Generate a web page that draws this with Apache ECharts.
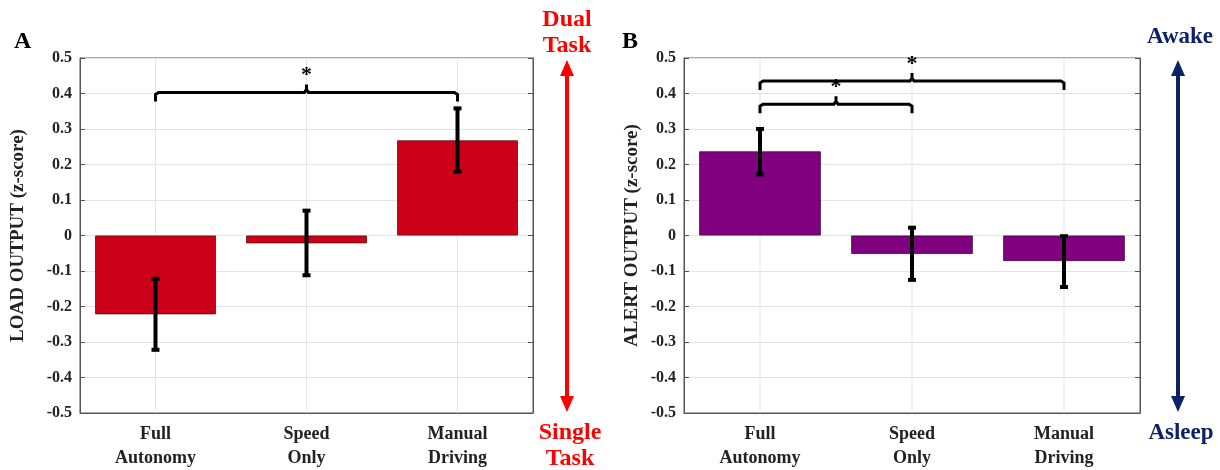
<!DOCTYPE html>
<html><head><meta charset="utf-8">
<script src="https://cdn.jsdelivr.net/npm/echarts@6/dist/echarts.min.js"></script>
<style>html,body{margin:0;padding:0;background:#fff}#c{width:1220px;height:470px}</style>
</head><body><div id="c"></div>
<script>
const categories = ['Full\nAutonomy', 'Speed\nOnly', 'Manual\nDriving'];
const yTicks = [-0.5, 0.5, 0.1];
const loadValues = [-0.222, -0.022, 0.268];
const loadErrLow = [-0.322, -0.112, 0.180];
const loadErrHigh = [-0.122, 0.070, 0.358];
const alertValues = [0.237, -0.052, -0.072];
const alertErrLow = [0.172, -0.125, -0.145];
const alertErrHigh = [0.300, 0.022, -0.002];
// brackets: [fromIndex, toIndex, level]
const loadBrackets = [[0, 2, 0.403]];
const alertBrackets = [[0, 2, 0.435], [0, 1, 0.370]];

const FONT = 'Liberation Serif';
const chart = echarts.init(document.getElementById('c'));

function errData(lo, hi) { return lo.map((l, i) => [i, l, hi[i]]); }
function errSeries(xi, lo, hi) {
  return {
    type: 'custom', xAxisIndex: xi, yAxisIndex: xi * 2, z: 5,
    data: errData(lo, hi),
    renderItem(params, api) {
      const a = api.coord([api.value(0), api.value(1)]);
      const b = api.coord([api.value(0), api.value(2)]);
      const st = { stroke: '#000', lineWidth: 4 };
      return { type: 'group', children: [
        { type: 'line', shape: { x1: a[0], y1: a[1], x2: b[0], y2: b[1] }, style: st },
        { type: 'line', shape: { x1: a[0] - 4, y1: a[1], x2: a[0] + 4, y2: a[1] }, style: st },
        { type: 'line', shape: { x1: b[0] - 4, y1: b[1], x2: b[0] + 4, y2: b[1] }, style: st }
      ]};
    }
  };
}
function bracketSeries(xi, data) {
  return {
    type: 'custom', xAxisIndex: xi, yAxisIndex: xi * 2, z: 6, clip: false,
    data: data,
    renderItem(params, api) {
      const p1 = api.coord([api.value(0), api.value(2)]);
      const p2 = api.coord([api.value(1), api.value(2)]);
      const mx = (p1[0] + p2[0]) / 2, y = p1[1];
      return { type: 'group', children: [
        { type: 'polyline', shape: { points: [[p1[0], y + 9], [p1[0], y + 2], [p1[0] + 3, y], [mx - 2, y], [mx, y - 3], [mx, y - 8], [mx, y - 3], [mx + 2, y], [p2[0] - 3, y], [p2[0], y + 2], [p2[0], y + 9]] },
          style: { stroke: '#000', lineWidth: 3, fill: null } },
        { type: 'text', x: mx, y: y - 6, style: { text: '*', fontFamily: FONT, fontWeight: 'bold', fontSize: 22, fill: '#000', align: 'center', verticalAlign: 'bottom' } }
      ]};
    }
  };
}
function gridLineSeries(xi) {
  return { type: 'custom', xAxisIndex: xi, yAxisIndex: xi * 2, z: 1, silent: true,
    data: categories.map((c, i) => [i]),
    renderItem(params, api) {
      const a = api.coord([api.value(0), yTicks[0]]);
      const b = api.coord([api.value(0), yTicks[1]]);
      return { type: 'line', shape: { x1: a[0], y1: a[1], x2: b[0], y2: b[1] }, style: { stroke: '#e4e4e4', lineWidth: 1 } };
    } };
}
function xAx(gi) {
  return { type: 'category', gridIndex: gi, data: categories, position: 'bottom',
    axisLine: { show: true, onZero: false, lineStyle: { color: '#555' } },
    axisTick: { show: false },
    axisLabel: { fontFamily: FONT, fontWeight: 'bold', fontSize: 18, color: '#222', lineHeight: 24, margin: 9 },
    splitLine: { show: false } };
}
function yAx(gi, name, gap) {
  return { type: 'value', gridIndex: gi, min: yTicks[0], max: yTicks[1], interval: yTicks[2],
    name: name, nameLocation: 'middle', nameGap: gap, nameRotate: 90,
    nameTextStyle: { fontFamily: FONT, fontWeight: 'bold', fontSize: 19, color: '#222' },
    axisLine: { show: true, lineStyle: { color: '#555' } },
    axisTick: { show: true, inside: true, length: 5, lineStyle: { color: '#555' } },
    axisLabel: { fontFamily: FONT, fontWeight: 'bold', fontSize: 16, color: '#222', margin: 8,
      formatter: v => String(Math.round(v * 10) / 10) },
    splitLine: { show: true, lineStyle: { color: '#e4e4e4' } } };
}
function yRight(gi) {
  return { type: 'value', gridIndex: gi, min: yTicks[0], max: yTicks[1], interval: yTicks[2], position: 'right',
    axisLine: { show: true, lineStyle: { color: '#555' } },
    axisTick: { show: true, inside: true, length: 5, lineStyle: { color: '#555' } },
    axisLabel: { show: false }, splitLine: { show: false } };
}
function arrow(x, y1, y2, color) {
  return { type: 'group', children: [
    { type: 'line', shape: { x1: x, y1: y1 + 12, x2: x, y2: y2 - 12 }, style: { stroke: color, lineWidth: 4 } },
    { type: 'polygon', shape: { points: [[x, y1], [x - 7, y1 + 16], [x + 7, y1 + 16]] }, style: { fill: color } },
    { type: 'polygon', shape: { points: [[x, y2], [x - 7, y2 - 16], [x + 7, y2 - 16]] }, style: { fill: color } }
  ]};
}
function txt(x, y, s, color, size) {
  return { type: 'text', x: x, y: y, style: { text: s, fontFamily: FONT, fontWeight: 'bold', fontSize: size, fill: color, align: 'center', verticalAlign: 'middle', lineHeight: 26 } };
}

chart.setOption({
  animation: false,
  grid: [
    { left: 80, top: 58, width: 453, height: 355, show: true, borderColor: '#555', borderWidth: 1 },
    { left: 684, top: 58, width: 456, height: 355, show: true, borderColor: '#555', borderWidth: 1 }
  ],
  xAxis: [xAx(0), xAx(1)],
  yAxis: [yAx(0, 'LOAD OUTPUT (z-score)', 52), yRight(0), yAx(1, 'ALERT OUTPUT (z-score)', 42), yRight(1)],
  series: [
    gridLineSeries(0),
    { type: 'bar', xAxisIndex: 0, yAxisIndex: 0, z: 2, data: loadValues, barWidth: '80%',
      itemStyle: { color: '#cc0019', borderColor: '#5a1010', borderWidth: 0.8 } },
    errSeries(0, loadErrLow, loadErrHigh),
    bracketSeries(0, loadBrackets),
    gridLineSeries(1),
    { type: 'bar', xAxisIndex: 1, yAxisIndex: 2, z: 2, data: alertValues, barWidth: '80%',
      itemStyle: { color: '#800080', borderColor: '#3a103a', borderWidth: 0.8 } },
    errSeries(1, alertErrLow, alertErrHigh),
    bracketSeries(1, alertBrackets)
  ],
  graphic: [
    { type: 'text', left: 14, top: 30, style: { text: 'A', fontFamily: FONT, fontWeight: 'bold', fontSize: 24, fill: '#000' } },
    { type: 'text', left: 622, top: 30, style: { text: 'B', fontFamily: FONT, fontWeight: 'bold', fontSize: 24, fill: '#000' } },
    txt(567, 33, 'Dual\nTask', '#ff0000', 24),
    txt(570, 446, 'Single\nTask', '#ff0000', 24),
    arrow(567, 60, 412, '#ff0000'),
    txt(1180, 37, 'Awake', '#0c2266', 23),
    txt(1181, 433, 'Asleep', '#0c2266', 23),
    arrow(1178, 60, 412, '#0c2266')
  ]
});
</script></body></html>
